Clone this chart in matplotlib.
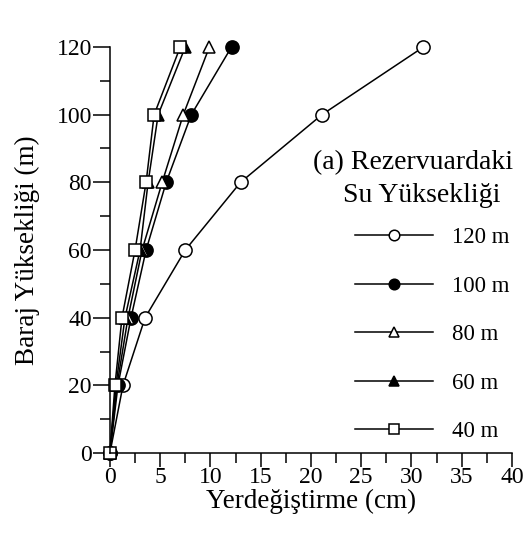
import matplotlib
matplotlib.use("Agg")
import matplotlib.pyplot as plt
from matplotlib.ticker import MultipleLocator

plt.rcParams['font.family'] = ['Liberation Serif', 'DejaVu Serif']

heights = [0, 20, 40, 60, 80, 100, 120]
disp_120 = [0, 1.3, 3.5, 7.5, 13.0, 21.1, 31.2]
disp_100 = [0, 0.8, 2.1, 3.6, 5.6, 8.1, 12.1]
disp_80 = [0, 0.7, 1.8, 3.2, 5.2, 7.3, 9.9]
disp_60 = [0, 0.6, 1.5, 3.0, 3.8, 4.8, 7.5]
disp_40 = [0, 0.5, 1.2, 2.5, 3.6, 4.4, 7.0]
labels = ['120 m', '100 m', '80 m', '60 m', '40 m']

fig = plt.figure(figsize=(5.31, 5.40), dpi=100)
ax = fig.add_axes([0.207, 0.161, 0.757, 0.752])

styles = [
    (disp_120, 'o', 'white'),
    (disp_100, 'o', 'black'),
    (disp_80, '^', 'white'),
    (disp_60, '^', 'black'),
    (disp_40, 's', 'white'),
]
handles = []
for (d, m, fc), lab in zip(styles, labels):
    ms = 9.5 if m == 'o' else 9
    h, = ax.plot(d, heights, color='black', lw=1.1, marker=m, ms=ms,
                 mfc=fc, mec='black', mew=1.1, clip_on=False, label=lab)
    handles.append(h)

ax.set_xlim(0, 40)
ax.set_ylim(0, 120)
ax.xaxis.set_major_locator(MultipleLocator(5))
ax.xaxis.set_minor_locator(MultipleLocator(2.5))
ax.yaxis.set_major_locator(MultipleLocator(20))
ax.yaxis.set_minor_locator(MultipleLocator(10))
ax.tick_params(which='major', direction='out', length=12, width=1.1, labelsize=17)
ax.tick_params(axis='x', which='major', length=10, pad=0)
ax.tick_params(axis='y', which='major', pad=1)
ax.tick_params(which='minor', direction='out', length=7, width=1.1)
for s in ['top', 'right']:
    ax.spines[s].set_visible(False)
for s in ['left', 'bottom']:
    ax.spines[s].set_linewidth(1.1)

ax.set_xlabel('Yerdeğiştirme (cm)', fontsize=19.5, labelpad=1)
ax.set_ylabel('Baraj Yüksekliği (m)', fontsize=19.5, labelpad=12)

fig.text(313/531, 1 - 163/540, '(a) Rezervuardaki', fontsize=20, ha='left', va='center')
fig.text(343/531, 1 - 195/540, 'Su Yüksekliği', fontsize=20, ha='left', va='center')

leg = ax.legend(handles=handles, labels=labels, frameon=False, fontsize=16.5,
                loc='upper left', bbox_to_anchor=(355/531, 1 - 227/540),
                bbox_transform=fig.transFigure, handlelength=3.4,
                handletextpad=0.85, labelspacing=1.2, markerscale=0.8,
                borderpad=0, borderaxespad=0)

fig.savefig('out.png', dpi=100)
